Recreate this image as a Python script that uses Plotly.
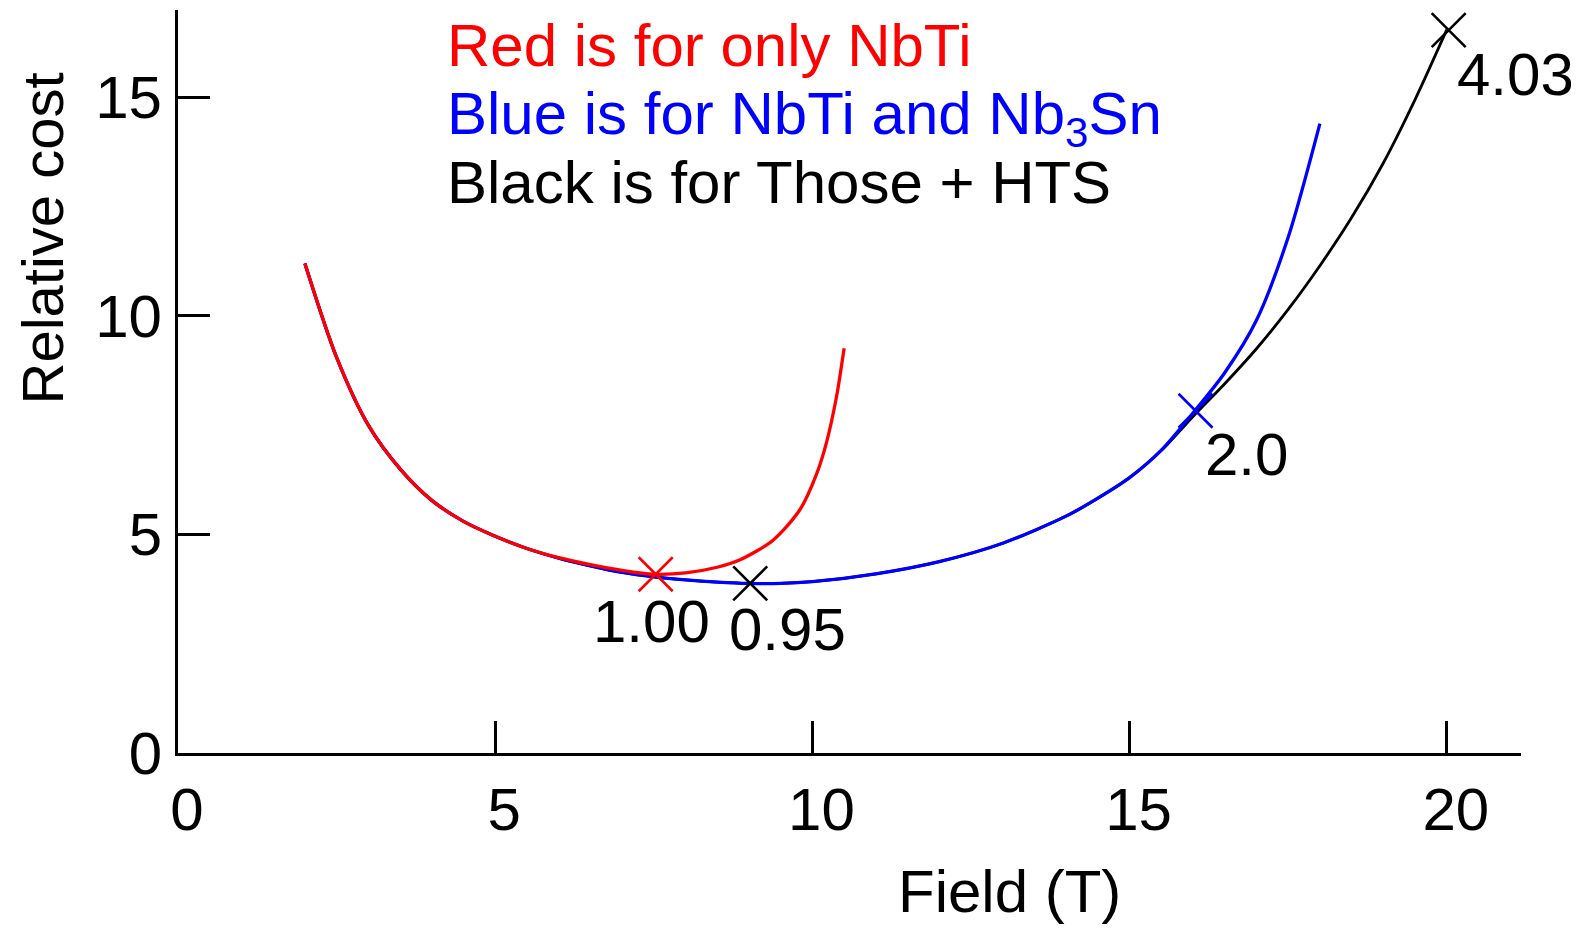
import plotly.graph_objects as go

# curve data
red_x = [2, 2.5, 3, 3.5, 4, 4.5, 5, 5.5, 6, 6.5, 7, 7.5, 8, 8.5, 8.86, 9.38, 9.8, 10.07, 10.22, 10.38, 10.5]
red_y = [11.2, 9.05, 7.5, 6.5, 5.78, 5.3, 4.96, 4.68, 4.47, 4.31, 4.18, 4.09, 4.12, 4.25, 4.42, 4.87, 5.56, 6.4, 7.09, 8.15, 9.26]

blue_x = [2, 2.5, 3, 3.5, 4, 4.5, 5, 5.5, 6, 6.5, 7, 7.5, 8, 8.5, 9, 9.5, 10, 11, 12, 13, 14, 14.5, 15, 15.5, 16, 16.5, 17, 17.5, 18]
blue_y = [11.2, 9.05, 7.5, 6.5, 5.78, 5.3, 4.96, 4.68, 4.46, 4.28, 4.13, 4.03, 3.96, 3.91, 3.88, 3.88, 3.92, 4.1, 4.38, 4.8, 5.42, 5.83, 6.3, 6.93, 7.78, 8.7, 9.9, 11.8, 14.4]

black_x = [2, 2.5, 3, 3.5, 4, 4.5, 5, 5.5, 6, 6.5, 7, 7.5, 8, 8.5, 9, 9.5, 10, 11, 12, 13, 14, 14.5, 15, 15.5, 16, 16.5, 17, 17.5, 18, 18.5, 19, 19.5, 20]
black_y = [11.2, 9.05, 7.5, 6.5, 5.78, 5.3, 4.96, 4.68, 4.46, 4.28, 4.13, 4.03, 3.96, 3.91, 3.88, 3.88, 3.92, 4.1, 4.38, 4.8, 5.42, 5.83, 6.3, 6.92, 7.7, 8.45, 9.25, 10.15, 11.15, 12.25, 13.5, 14.95, 16.55]

# marked points and their labels
mark_x = [7.53, 9.02, 16.04, 20.03]
mark_y = [4.09, 3.88, 7.83, 16.54]
mark_colors = ["red", "black", "blue", "black"]
label_text = ["1.00", "0.95", "2.0", "4.03"]
label_x = [7.47, 9.60, 16.85, 21.09]
label_y = [3.0, 2.82, 6.84, 15.52]

x_ticks = [0, 5, 10, 15, 20]
y_ticks = [0, 5, 10, 15]

FONT = "Liberation Sans"

fig = go.Figure()
fig.add_trace(go.Scatter(x=black_x, y=black_y, mode="lines",
                         line=dict(color="black", width=2.8, shape="spline", smoothing=0.8)))
fig.add_trace(go.Scatter(x=blue_x, y=blue_y, mode="lines",
                         line=dict(color="blue", width=3.3, shape="spline", smoothing=0.8)))
fig.add_trace(go.Scatter(x=red_x, y=red_y, mode="lines",
                         line=dict(color="red", width=3.3, shape="spline", smoothing=0.8)))
fig.add_trace(go.Scatter(
    x=mark_x, y=mark_y, mode="markers",
    marker=dict(symbol="x-thin", size=34, line=dict(width=2.6, color=mark_colors)),
))

for t, x, y in zip(label_text, label_x, label_y):
    fig.add_annotation(x=x, y=y, text=t, showarrow=False,
                       font=dict(size=60, color="black", family=FONT),
                       xanchor="center", yanchor="middle")

legend_lines = [
    ("Red is for only NbTi", "red", 0.9516),
    ("Blue is for NbTi and Nb<sub>3</sub>Sn", "blue", 0.8547),
    ("Black is for Those + HTS", "black", 0.7685),
]
for t, c, y in legend_lines:
    fig.add_annotation(xref="paper", yref="paper", x=0.1988, y=y, text=t,
                       showarrow=False, xanchor="left", yanchor="middle",
                       font=dict(size=60, color=c, family=FONT))

# axis titles (off-centre in the original)
fig.add_annotation(xref="paper", yref="paper", x=0.619, y=-0.187, text="Field (T)",
                   showarrow=False, xanchor="center", yanchor="middle",
                   font=dict(size=60, color="black", family=FONT))
fig.add_annotation(xref="paper", yref="paper", x=-0.101, y=0.693, text="Relative cost",
                   showarrow=False, xanchor="center", yanchor="middle", textangle=-90,
                   font=dict(size=58, color="black", family=FONT))

fig.update_xaxes(range=[0, 21.17], tickvals=x_ticks, ticks="inside", ticklen=32, tickwidth=2.5,
                 tickcolor="black", showline=True, linewidth=3, linecolor="black",
                 showgrid=False, zeroline=False, ticklabelstandoff=2, ticklabelshift=9,
                 automargin=False, tickfont=dict(size=60, family=FONT, color="black"))
fig.update_yaxes(range=[0, 17], tickvals=y_ticks, ticks="inside", ticklen=32, tickwidth=2.5,
                 tickcolor="black", showline=True, linewidth=3, linecolor="black",
                 showgrid=False, zeroline=False, ticklabelstandoff=1,
                 automargin=False, tickfont=dict(size=60, family=FONT, color="black"))

# the page body has an 8px margin, so the figure is a little smaller and offset
fig.update_layout(
    width=1571, height=922, showlegend=False,
    plot_bgcolor="white", paper_bgcolor="white",
    margin=dict(l=170, r=58, t=2, b=177),
)

fig.write_html("out.html")
